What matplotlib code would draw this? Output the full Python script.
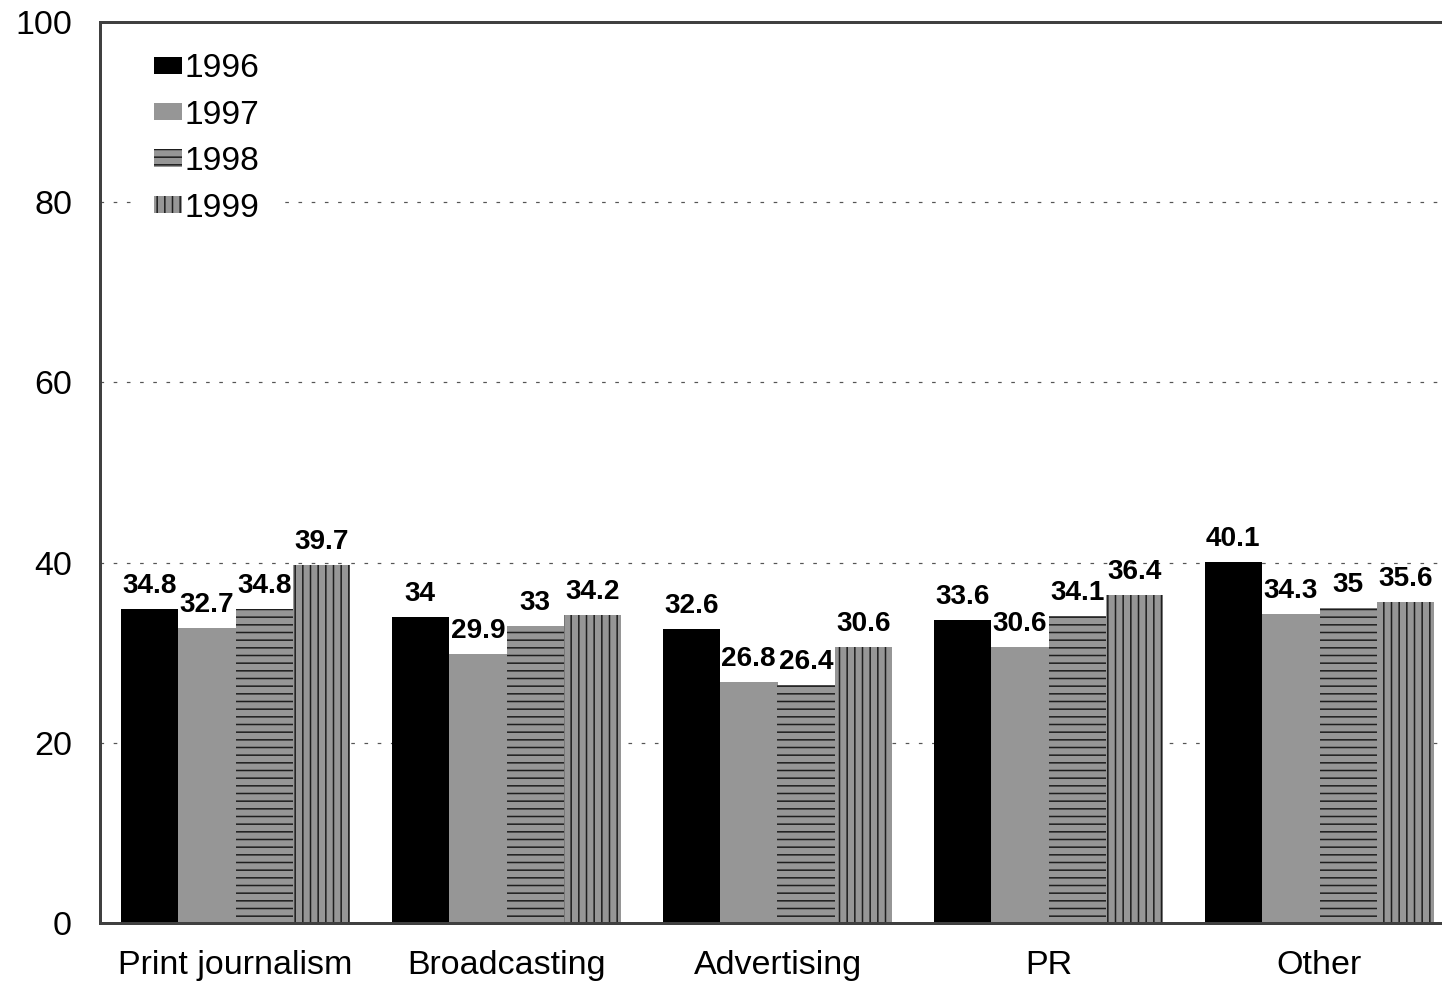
import numpy as np
import matplotlib.pyplot as plt

plt.rcParams["font.family"] = ["Liberation Sans", "DejaVu Sans"]
plt.rcParams["hatch.linewidth"] = 1.2

# ------------------------------------------------------------
# data
# ------------------------------------------------------------
categories = ["Print journalism", "Broadcasting", "Advertising", "PR", "Other"]
years = ["1996", "1997", "1998", "1999"]
v1996 = [34.8, 34, 32.6, 33.6, 40.1]
v1997 = [32.7, 29.9, 26.8, 30.6, 34.3]
v1998 = [34.8, 33, 26.4, 34.1, 35]
v1999 = [39.7, 34.2, 30.6, 36.4, 35.6]
series = [v1996, v1997, v1998, v1999]

faces = ["black", "#969696", "#969696", "#969696"]
hatches = [None, None, "--", "||"]

DPI = 92
W, H = 1442, 983


def px(p):
    # pixel size -> points at the output dpi
    return p * 72 / DPI


fig = plt.figure(figsize=(W / DPI, H / DPI), dpi=DPI)
ax = fig.add_axes([100 / W, 1 - 923 / H, 1355 / W, (923 - 22) / H])

x = np.arange(len(categories))
bw = 0.212
for i, (vals, fc, ht) in enumerate(zip(series, faces, hatches)):
    pos = x + (i - 1.5) * bw
    bars = ax.bar(pos, vals, bw, color=fc, hatch=ht, edgecolor="#1e1e1e",
                  linewidth=0, label=years[i], zorder=2)
    for b, v in zip(bars, vals):
        ax.annotate(f"{v:g}", (b.get_x() + b.get_width() / 2, v),
                    xytext=(0, px(10)), textcoords="offset points",
                    ha="center", va="bottom", fontsize=px(28),
                    fontweight="bold", zorder=3)

ax.set_xlim(-0.5, 4.5)
ax.set_ylim(0, 100)
ax.set_yticks([0, 20, 40, 60, 80, 100])
ax.set_xticks(x)
ax.set_xticklabels(categories)
ax.tick_params(axis="both", length=0, labelsize=px(34))
ax.tick_params(axis="y", pad=px(28))
ax.tick_params(axis="x", pad=px(27))

ax.yaxis.grid(True, color="#555555", linewidth=px(1.2),
              linestyle=(0, (3, 8)), zorder=0)
ax.set_axisbelow(True)

for s in ["left", "bottom", "top", "right"]:
    ax.spines[s].set_color("#404040")
    ax.spines[s].set_linewidth(px(3))

leg = ax.legend(loc="upper left", bbox_to_anchor=(0.025, 0.9876),
                fontsize=px(33.5), frameon=True, facecolor="white",
                edgecolor="none", framealpha=1, fancybox=False,
                handlelength=0.84, handleheight=0.42, handletextpad=0.06,
                labelspacing=0.46, borderpad=0.6, borderaxespad=0)
leg.set_zorder(4)

fig.savefig("out.png", dpi=DPI)
